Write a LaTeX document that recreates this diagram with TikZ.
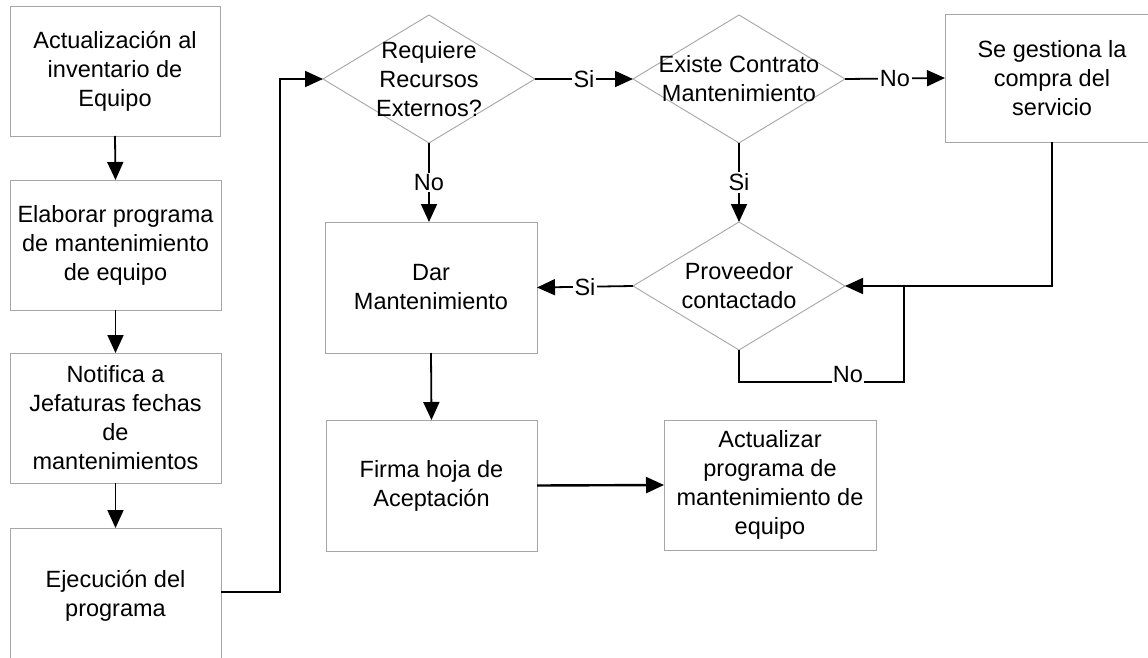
\documentclass[tikz,border=0pt]{standalone}
\usepackage{fontspec}
\setmainfont{Liberation Sans}
\usetikzlibrary{shapes.geometric,arrows.meta}
\begin{document}
\begin{tikzpicture}[x=1pt,y=-1pt,
  every node/.style={font=\fontsize{23.5}{29}\selectfont, text=black},
  box/.style={draw=gray!70, line width=0.9pt, rectangle, align=center, inner sep=0pt, outer sep=0pt},
  dia/.style={draw=gray!70, line width=0.9pt, diamond, inner sep=0pt, outer sep=0pt,
              minimum width=212pt, minimum height=128pt},
  conn/.style={line width=1.8pt, -{Triangle[length=18pt,width=16pt]}},
  wire/.style={line width=1.8pt},
  lbl/.style={fill=white, inner sep=1.5pt}]
\useasboundingbox (0,0) rectangle (1148,658);

% left column
\node[box, minimum width=210pt, minimum height=130pt] (b1) at (115,71) {Actualización al\\inventario de\\Equipo};
\node[box, minimum width=211pt, minimum height=130pt] (b2) at (115.5,245) {Elaborar programa\\de mantenimiento\\de equipo};
\node[box, minimum width=211pt, minimum height=130pt] (b3) at (115.5,418) {Notifica a\\Jefaturas fechas\\de\\mantenimientos};
\node[box, minimum width=211pt, minimum height=136pt] (b4) at (115.5,596) {Ejecución del\\programa};

% decisions
\node[dia, label={[align=center]center:Requiere\\Recursos\\Externos?}] (d1) at (429,79) {};
\node[dia, label={[align=center]center:Existe Contrato\\Mantenimiento}] (d2) at (739,79) {};
\node[dia, label={[align=center]center:Proveedor\\contactado}] (d3) at (739,286) {};

% other boxes
\node[box, minimum width=214pt, minimum height=128pt] (se) at (1052,78) {Se gestiona la\\compra del\\servicio};
\node[box, minimum width=212pt, minimum height=131pt] (dar) at (431,287.5) {Dar\\Mantenimiento};
\node[box, minimum width=211pt, minimum height=131pt] (fir) at (431.5,485.5) {Firma hoja de\\Aceptación};
\node[box, minimum width=212pt, minimum height=130pt] (act) at (770,485) {Actualizar\\programa de\\mantenimiento de\\equipo};

\coordinate (c1) at (280,592);
\coordinate (c2) at (280,79);
\coordinate (j) at (904,286);

% connectors
\draw[conn] (b1.south) -- (b2.north);
\draw[conn] (b2.south) -- (b3.north);
\draw[conn] (b3.south) -- (b4.north);
\draw[conn] ([yshift=4pt]b4.east) -- (c1) -- (c2) -- (d1.west);
\draw[conn] (d1.east) -- node[lbl]{Si} (d2.west);
\draw[conn] (d2.east) -- node[lbl]{No} (se.west);
\draw[conn] (d1.south) -- node[lbl]{No} (d1.south |- dar.north);
\draw[conn] (d2.south) -- node[lbl]{Si} (d3.north);
\draw[conn] (se.south) |- (d3.east);
\draw[conn] (d3.west) -- node[lbl]{Si} (dar.east);
\draw[wire] (d3.south) -- ++(0,32) -| node[lbl, anchor=base, pos=0.33, inner sep=1pt]{No} (j);
\draw[conn] (dar.south) -- (fir.north);
\draw[conn, line width=2.4pt] (fir.east) -- (act.west);
\end{tikzpicture}
\end{document}
